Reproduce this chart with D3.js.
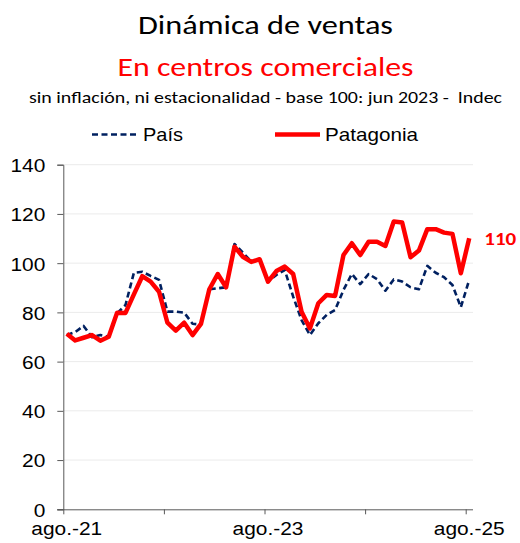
<!DOCTYPE html>
<html>
<head>
<meta charset="utf-8">
<script src="https://cdn.jsdelivr.net/npm/d3@7"></script>
<style>
  body { margin: 0; background: #fff; }
  svg { display: block; }
</style>
</head>
<body>
<svg></svg>
<script>
// monthly, ago-21 .. ago-25
const MONTHS = d3.range(49);
const TICK_LABELS = ["ago.-21", "", "ago.-23", "", "ago.-25"];
const PAIS = [
  70.8, 72, 74.5, 69.9, 70.8, 70.1, 79.6, 83, 96.1, 96.5, 94.8, 93.2,
  80.3, 80.3, 79.9, 75.4, 75, 89.4, 89.8, 90.2, 107.8, 104.3, 100.6, 101.5,
  92.5, 95.2, 97.2, 86.4, 76.9, 70.8, 75.6, 79, 81, 89.1, 95.6, 91.5,
  95.6, 93.5, 88.8, 93.4, 92.5, 90.2, 89.4, 98.9, 96.1, 94.3, 91.1, 82.1,
  93.2
];
const PATAGONIA = [
  71.3, 68.6, 69.7, 70.8, 68.5, 70.1, 79.9, 79.8, 87.3, 94.7, 92.5, 88.4,
  75.8, 72.6, 75.8, 70.8, 75.3, 89.4, 95.6, 90.2, 106.7, 102.6, 100.5, 101.6,
  92.5, 96.8, 98.6, 95.6, 80.3, 73.5, 83.7, 87.1, 86.7, 103.3, 108.1, 103.3,
  108.7, 108.7, 107, 116.9, 116.5, 102.4, 105.1, 113.8, 113.8, 112.4, 111.9, 95.9,
  110.1
];
const Y_TICKS = [0, 20, 40, 60, 80, 100, 120, 140];

const WIDTH = 520, HEIGHT = 543;
const PLOT = {left: 63.3, right: 465.7, top: 164.7, bottom: 509.3, gridEnd: 473};
const SHIFT = 0.42; // points sit a little right of the month tick
const STRETCH = 1.1; // the original picture is a bit wider than tall

const svg = d3.select('svg').attr('width', WIDTH).attr('height', HEIGHT);

const xScale = d3.scaleLinear().domain([0, 48]).range([PLOT.left, PLOT.right]);
const yScale = d3.scaleLinear().domain([0, 140]).range([PLOT.bottom, PLOT.top]);

const CAL = "Carlito, Calibri, Lato, sans-serif";
const ARIAL = 'Arial, "Liberation Sans", sans-serif';

// titles
function title(txt, y, size, color, len) {
  svg.append('text').text(txt)
    .attr('x', 265.5).attr('y', y).attr('text-anchor', 'middle')
    .attr('textLength', len).attr('lengthAdjust', 'spacingAndGlyphs')
    .style('font-family', CAL).style('font-size', size + 'px')
    .style('white-space', 'pre')
    .attr('fill', color);
}
title('Dinámica de ventas', 34, 26.5, '#000', 255);
title('En centros comerciales', 76, 26.5, '#ff0000', 296);
title('sin inflación, ni estacionalidad - base 100: jun 2023 -  Indec', 103, 15.5, '#000', 473);

// legend
const legend = svg.append('g').style('font-family', ARIAL).style('font-size', '18.5px');
legend.append('line').attr('x1', 92).attr('x2', 138).attr('y1', 134.5).attr('y2', 134.5)
  .attr('stroke', '#002060').attr('stroke-width', 2.5).attr('stroke-dasharray', '6,3.5');
legend.append('text').text('País').attr('x', 143).attr('y', 140.5)
  .attr('textLength', 40).attr('lengthAdjust', 'spacingAndGlyphs');
legend.append('line').attr('x1', 275).attr('x2', 320).attr('y1', 134.5).attr('y2', 134.5)
  .attr('stroke', '#ff0000').attr('stroke-width', 4.5);
legend.append('text').text('Patagonia').attr('x', 325).attr('y', 140.5)
  .attr('textLength', 93).attr('lengthAdjust', 'spacingAndGlyphs');

// gridlines
svg.append('g').selectAll('line').data(Y_TICKS.filter(d => d > 0)).enter()
  .append('line')
  .attr('x1', PLOT.left).attr('x2', PLOT.gridEnd)
  .attr('y1', d => yScale(d)).attr('y2', d => yScale(d))
  .attr('stroke', '#ebebeb').attr('stroke-width', 1);

// y axis
const yAxis = svg.append('g')
  .attr('transform', `translate(${PLOT.left},0)`)
  .call(d3.axisLeft(yScale).tickValues(Y_TICKS).tickSize(6).tickPadding(11))
  .style('font-family', ARIAL).style('font-size', '19px');
yAxis.select('.domain').attr('stroke', '#595959');
yAxis.selectAll('.tick line').attr('stroke', '#595959');
yAxis.selectAll('.tick text').attr('fill', '#000').attr('dy', '0.36em')
  .attr('x', -18 / STRETCH).attr('transform', `scale(${STRETCH},1)`);

// x axis
const xAxis = svg.append('g')
  .attr('transform', `translate(0,${PLOT.bottom})`)
  .call(d3.axisBottom(xScale).tickValues([0, 12, 24, 36, 48]).tickSize(5).tickPadding(7)
    .tickFormat((d, i) => TICK_LABELS[i]))
  .style('font-family', ARIAL).style('font-size', '19px');
xAxis.select('.domain').attr('d', `M${PLOT.left - 6},0.5H${PLOT.gridEnd}`).attr('stroke', '#595959');
xAxis.selectAll('.tick line').attr('stroke', '#595959');
xAxis.selectAll('.tick text').attr('fill', '#000')
  .attr('x', 3 / STRETCH).attr('transform', `scale(${STRETCH},1)`);

// lines
const line = series => d3.line()
  .x(i => xScale(i + SHIFT))
  .y(i => yScale(series[i]));

svg.append('path').datum(MONTHS)
  .attr('d', line(PAIS))
  .attr('fill', 'none').attr('stroke', '#002060').attr('stroke-width', 2.6)
  .attr('stroke-dasharray', '6,3.5').attr('stroke-linejoin', 'round');

svg.append('path').datum(MONTHS)
  .attr('d', line(PATAGONIA))
  .attr('fill', 'none').attr('stroke', '#ff0000').attr('stroke-width', 4.5)
  .attr('stroke-linejoin', 'round');

// last value label
const last = PATAGONIA.length - 1;
svg.append('text')
  .text(Math.round(PATAGONIA[last]))
  .attr('x', xScale(last + SHIFT) + 15)
  .attr('y', yScale(PATAGONIA[last]) + 7)
  .attr('textLength', 32).attr('lengthAdjust', 'spacingAndGlyphs')
  .attr('fill', '#ff0000').style('font-weight', 'bold')
  .style('font-family', CAL).style('font-size', '19px');
</script>
</body>
</html>
